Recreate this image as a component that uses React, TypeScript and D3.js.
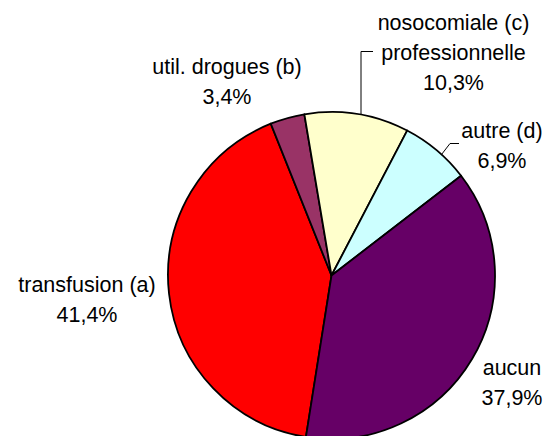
import React from "react";
import * as d3 from "d3";

const categories = ["transfusion (a)", "util. drogues (b)", "nosocomiale (c)", "autre (d)", "aucun"];
const values = [41.4, 3.4, 10.3, 6.9, 37.9];
const labelLines = [
  ["transfusion (a)", "41,4%"],
  ["util. drogues (b)", "3,4%"],
  ["nosocomiale (c)", "professionnelle", "10,3%"],
  ["autre (d)", "6,9%"],
  ["aucun", "37,9%"],
];
const colors = ["#FF0000", "#993366", "#FFFFCC", "#CCFFFF", "#660066"];

// layout (label anchor positions: centre x, first baseline y)
const W = 549, H = 436;
const CX = 331.5, CY = 275.5, R = 163.5;
const START_DEG = 189;
const labelPos: [number, number][] = [
  [87, 292],
  [227, 74],
  [453.5, 30],
  [502, 138],
  [512, 375],
];
const LINE_H = 30;

export default function App() {
  const pie = d3
    .pie<number>()
    .sort(null)
    .value((d) => d)
    .startAngle((START_DEG * Math.PI) / 180)
    .endAngle((START_DEG * Math.PI) / 180 + 2 * Math.PI);
  const arcs = pie(values);
  const arc = d3.arc<d3.PieArcDatum<number>>().innerRadius(0).outerRadius(R);

  // leader lines: point on the pie edge at a given x, going up
  const edgeY = (x: number) => CY - Math.sqrt(R * R - (x - CX) * (x - CX));
  const lead1 = d3.line()([
    [361, edgeY(361)],
    [361, 51.5],
    [373, 51.5],
  ]);
  const lead2 = d3.line()([
    [441.5, edgeY(441.5)],
    [450, 143.5],
    [459, 143.5],
  ]);

  return (
    <svg
      width={W}
      height={H}
      style={{ position: "absolute", left: 0, top: 0, background: "#fff" }}
      fontFamily="'Liberation Sans', Arial, sans-serif"
    >
      <rect width={W} height={H} fill="#fff" />
      <g transform={`translate(${CX},${CY})`}>
        {arcs.map((a, i) => (
          <path
            key={categories[i]}
            d={arc(a) || ""}
            fill={colors[i]}
            stroke="#000"
            strokeWidth={1.8}
            strokeLinejoin="round"
          />
        ))}
      </g>
      <path d={lead1 || ""} fill="none" stroke="#000" strokeWidth={1} />
      <path d={lead2 || ""} fill="none" stroke="#000" strokeWidth={1} />
      {labelLines.map((lines, i) => (
        <text
          key={categories[i]}
          x={labelPos[i][0]}
          y={labelPos[i][1]}
          textAnchor="middle"
          fontSize={21.5}
          fill="#000"
        >
          {lines.map((l, j) => (
            <tspan key={j} x={labelPos[i][0]} y={labelPos[i][1] + j * LINE_H}>
              {l}
            </tspan>
          ))}
        </text>
      ))}
    </svg>
  );
}
